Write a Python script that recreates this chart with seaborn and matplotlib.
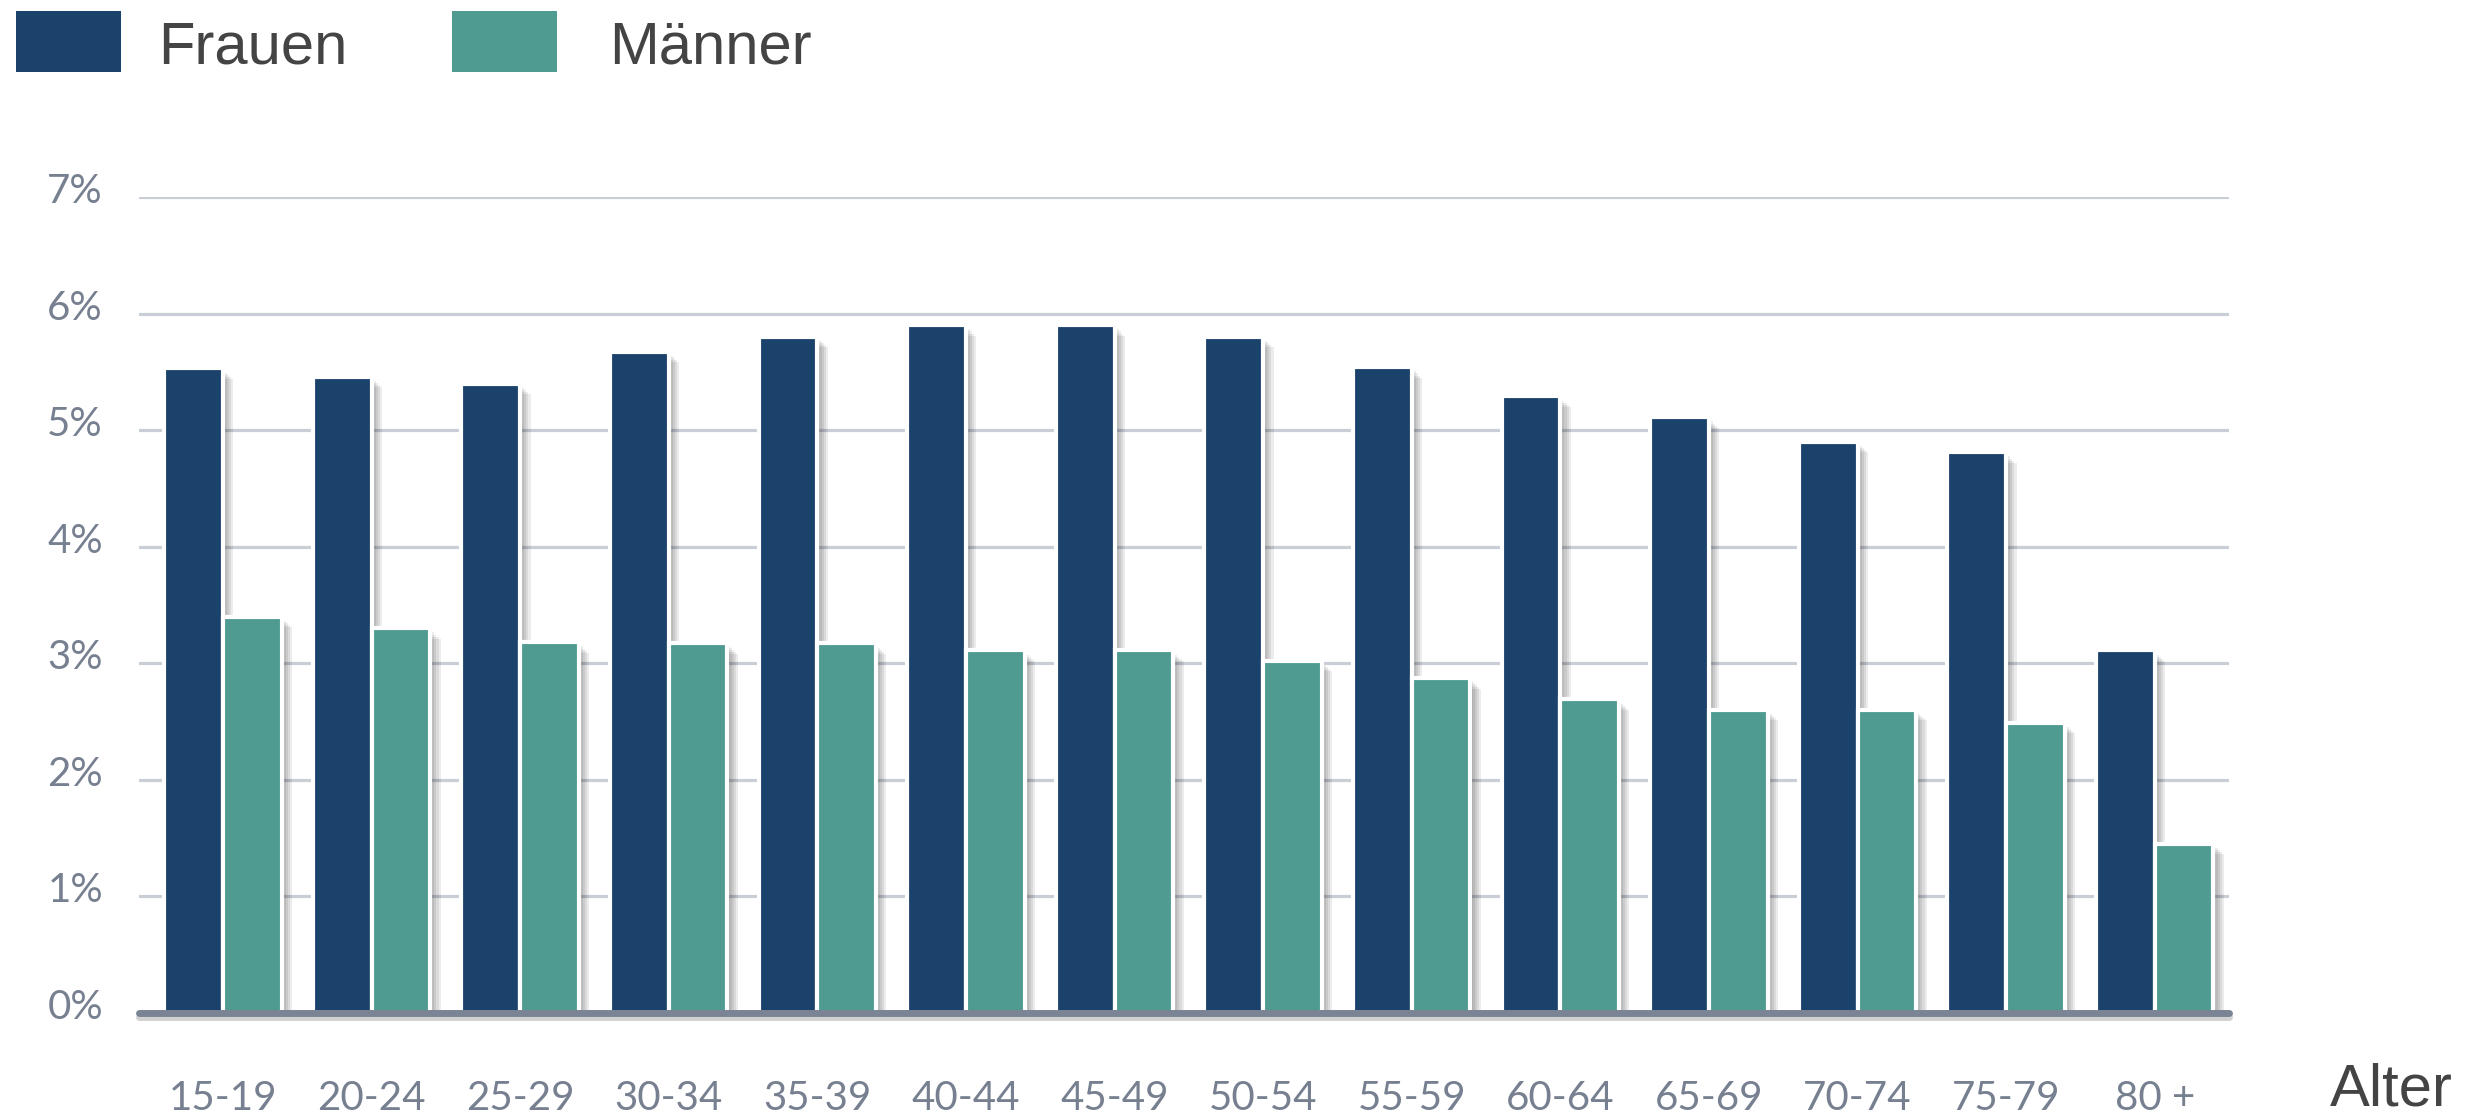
import matplotlib
matplotlib.use("Agg")
import numpy as np
import pandas as pd
import seaborn as sns
import matplotlib.pyplot as plt
from matplotlib import patheffects as pe
from matplotlib.patches import Rectangle
from matplotlib.transforms import ScaledTranslation

# Altersgruppen und Anteile (in Prozent)
altersgruppen = ["15-19", "20-24", "25-29", "30-34", "35-39", "40-44", "45-49",
                 "50-54", "55-59", "60-64", "65-69", "70-74", "75-79", "80 +"]
frauen = [5.53, 5.46, 5.40, 5.67, 5.80, 5.90, 5.90, 5.80, 5.54, 5.29, 5.11, 4.90, 4.81, 3.11]
maenner = [3.40, 3.30, 3.18, 3.17, 3.17, 3.11, 3.11, 3.02, 2.87, 2.69, 2.60, 2.60, 2.49, 1.45]
geschlechter = ["Frauen", "Männer"]
farben = ["#1b426b", "#4f9a91"]
y_ticks = [0, 1, 2, 3, 4, 5, 6, 7]
y_tick_labels = ["0%", "1%", "2%", "3%", "4%", "5%", "6%", "7%"]

df = pd.DataFrame({
    "Alter": altersgruppen * 2,
    "Geschlecht": [geschlechter[0]] * len(frauen) + [geschlechter[1]] * len(maenner),
    "Anteil": frauen + maenner,
})

sns.set_theme(style="white")
plt.rcParams["font.family"] = ["Lato", "DejaVu Sans"]

W, H = 2482, 1119
fig = plt.figure(figsize=(W / 100, H / 100), dpi=100)
fig.patch.set_facecolor("white")
ax = fig.add_axes([139 / W, 1 - 1013 / H, (2229 - 139) / W, (1013 - 197) / H])

sns.barplot(data=df, x="Alter", y="Anteil", hue="Geschlecht", palette=farben,
            saturation=1, width=0.79, edgecolor="white", linewidth=3,
            legend=False, ax=ax)

# weicher Schlagschatten rechts unterhalb der Balken
schatten = [pe.SimplePatchShadow(offset=(d, -d), shadow_rgbFace="#000000", alpha=0.075)
            for d in (1.5, 3, 4.5, 6, 7.5)] + [pe.Normal()]
for p in ax.patches:
    p.set_path_effects(schatten)

ax.set_xlim(-0.565, 13.5)
ax.set_ylim(0, 7)
ax.set_yticks(y_ticks)
ax.set_yticklabels(y_tick_labels)
ax.set_axisbelow(True)
ax.grid(axis="y", color="#c9cdd6", lw=2.3)
ax.grid(axis="x", visible=False)
for s in ax.spines.values():
    s.set_visible(False)

# Grundlinie mit leichtem Schatten
ax.axhline(0, color="#7b8494", lw=5, zorder=6, clip_on=False,
           path_effects=[pe.SimpleLineShadow(offset=(0, -3), alpha=0.18, shadow_color="black"),
                         pe.Normal()])

tick_farbe = "#778090"
ax.tick_params(axis="y", length=0, pad=26, labelsize=29, labelcolor=tick_farbe)
ax.tick_params(axis="x", length=0, pad=48, labelsize=29, labelcolor=tick_farbe)
ax.set_xlabel("")
ax.set_ylabel("")
for lbl in ax.get_yticklabels():
    lbl.set_transform(lbl.get_transform() + ScaledTranslation(0, 9 / 100, fig.dpi_scale_trans))

# Legende
text_font = ["Liberation Sans", "DejaVu Sans"]
legende = [(16, 158), (452, 609)]
for (box_x, text_x), name, farbe in zip(legende, geschlechter, farben):
    fig.add_artist(Rectangle((box_x / W, 1 - 72 / H), 105 / W, 61 / H,
                             transform=fig.transFigure, color=farbe, lw=0))
    fig.text(text_x / W, 1 - 63 / H, name, family=text_font, size=43,
             color="#444444", va="baseline", ha="left")

fig.text(2330 / W, 1 - 1106 / H, "Alter", family=text_font, size=43,
         color="#444444", va="baseline", ha="left")

fig.savefig("out.png", dpi=100, facecolor="white")
